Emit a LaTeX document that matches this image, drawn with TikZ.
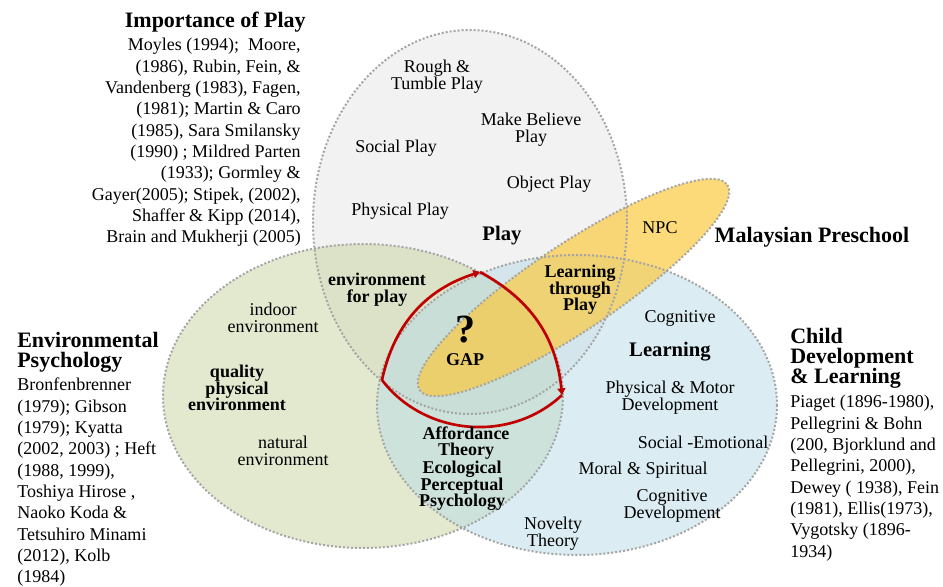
\documentclass[tikz,border=0pt]{standalone}
\usepackage{fontspec}
\setmainfont{Liberation Serif}
\usepackage{tikz}
\usetikzlibrary{arrows.meta}
\definecolor{playgray}{RGB}{242,242,242}
\definecolor{envgreen}{RGB}{199,211,159}
\definecolor{learnblue}{RGB}{183,219,231}
\definecolor{preyellow}{RGB}{251,202,65}
\definecolor{rimgray}{RGB}{165,165,165}
\definecolor{gapred}{RGB}{192,0,0}
\tikzstyle{rim} = [draw=rimgray, line width=1.5pt, dash pattern=on 1.5pt off 1.5pt]
\tikzstyle{zonetext} = [align=center, inner sep=0pt, font=\fontsize{13.5}{12.75}\selectfont]
\tikzstyle{zonebold} = [align=center, inner sep=0pt, font=\fontsize{13.5}{12.5}\selectfont\bfseries]
\tikzstyle{zonename} = [inner sep=0pt, font=\fontsize{15.5}{15}\selectfont\bfseries]
\tikzstyle{heading} = [align=left, inner sep=0pt, font=\fontsize{16.5}{15}\selectfont\bfseries]
\tikzstyle{refs} = [inner sep=0pt, font=\fontsize{13.5}{16}\selectfont]
\tikzstyle{gapedge} = [draw=gapred, line width=2pt]

\begin{document}
\begin{tikzpicture}[x=0.75pt, y=-0.75pt]
	\useasboundingbox (0, 0) rectangle (943, 586);

	\fill[playgray] (470, 222) ellipse [x radius=157, y radius=192];
	\fill[envgreen, fill opacity=0.5] (363, 396) ellipse [x radius=200, y radius=152];
	\fill[learnblue, fill opacity=0.5] (577, 405) ellipse [x radius=200, y radius=150];
	\fill[preyellow, fill opacity=0.7, rotate around={33.7:(573.5, 287.5)}] (573.5, 287.5) ellipse [x radius=185, y radius=43];

	\draw[rim] (470, 222) ellipse [x radius=157, y radius=192];
	\draw[rim] (363, 396) ellipse [x radius=200, y radius=152];
	\draw[rim] (577, 405) ellipse [x radius=200, y radius=150];
	\draw[rim, rotate around={33.7:(573.5, 287.5)}] (573.5, 287.5) ellipse [x radius=185, y radius=43];

	\coordinate (GapL) at (382, 380);
	\coordinate (GapT) at (480, 272);
	\coordinate (GapR) at (562, 395);
	\draw[gapedge, -{Triangle[length=5pt, width=6pt]}] (GapL) to[bend left=30] (GapT);
	\draw[gapedge, -{Triangle[length=5pt, width=6pt]}] (GapT) to[bend left=28] (GapR);
	\draw[gapedge] (GapR) to[bend left=48] (GapL);

	\node (Rough) [zonetext] at (437, 77) {Rough \&\\Tumble Play};
	\node (MakeBelieve) [zonetext] at (531, 130) {Make Believe\\Play};
	\node (Social) [zonetext] at (396, 148) {Social Play};
	\node (Object) [zonetext] at (549, 184) {Object Play};
	\node (Physical) [zonetext] at (400, 211) {Physical Play};
	\node (Play) [zonename] at (502, 236) {Play};
	\node (NPC) [zonetext] at (660, 228) {NPC};
	\node (EnvPlay) [zonebold] at (377, 290) {environment\\for play};
	\node (Through) [zonebold] at (580, 290) {Learning\\through\\Play};
	\node (Query) [inner sep=0pt, font=\fontsize{30}{30}\selectfont\bfseries] at (465, 330) {?};
	\node (Gap) [zonebold] at (465, 360) {GAP};

	\node (Indoor) [zonetext] at (273, 318) {indoor\\environment};
	\node (Quality) [zonebold] at (237, 388) {quality\\physical\\environment};
	\node (Natural) [zonetext] at (283, 451) {natural\\environment};

	\node (Cog) [zonetext] at (680, 318) {Cognitive};
	\node (Learning) [zonename] at (670, 352) {Learning};
	\node (Motor) [zonetext] at (670, 398) {Physical \& Motor\\Development};
	\node (SocEmo) [zonetext] at (703, 442) {Social -Emotional};
	\node (Moral) [zonetext] at (643, 470) {Moral \& Spiritual};
	\node (CogDev) [zonetext] at (672, 506) {Cognitive\\Development};
	\node (Afford) [zonebold] at (466, 443) {Affordance\\Theory};
	\node (Eco) [zonebold] at (462, 486) {Ecological\\Perceptual\\Psychology};
	\node (Novelty) [zonetext] at (553, 534) {Novelty\\Theory};

	\node (PlayHead) [heading, anchor=east] at (306, 22) {Importance of Play};
	\node (PlayRefs) [refs, anchor=north east, align=right] at (301, 38) {Moyles (1994);\ \ Moore,\\(1986), Rubin, Fein, \&\\Vandenberg (1983), Fagen,\\(1981); Martin \& Caro\\(1985), Sara Smilansky\\(1990) ; Mildred Parten\\(1933); Gormley \&\\Gayer(2005); Stipek, (2002),\\Shaffer \& Kipp (2014),\\Brain and Mukherji (2005)};

	\node (EnvHead) [heading, anchor=north west] at (17, 332) {Environmental\\Psychology};
	\node (EnvRefs) [refs, anchor=north west, align=left] at (17, 378) {Bronfenbrenner\\(1979); Gibson\\(1979); Kyatta\\(2002, 2003) ; Heft\\(1988, 1999),\\Toshiya Hirose ,\\Naoko Koda \&\\Tetsuhiro Minami\\(2012), Kolb\\(1984)};

	\node (ChildHead) [heading, anchor=north west] at (790, 328) {Child\\Development\\\& Learning};
	\node (ChildRefs) [refs, anchor=north west, align=left] at (790, 395) {Piaget (1896-1980),\\Pellegrini \& Bohn\\(200, Bjorklund and\\Pellegrini, 2000),\\Dewey ( 1938), Fein\\(1981), Ellis(1973),\\Vygotsky (1896-\\1934)};

	\node (Preschool) [heading] at (812, 237) {Malaysian Preschool};
\end{tikzpicture}
\end{document}
